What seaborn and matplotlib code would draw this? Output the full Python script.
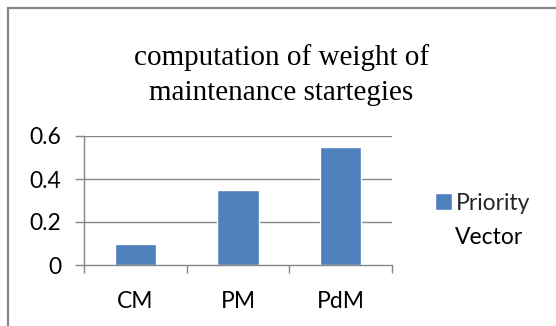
import matplotlib
matplotlib.use("Agg")
import matplotlib.pyplot as plt
import seaborn as sns
import pandas as pd
from matplotlib.patches import Rectangle

categories = ["CM", "PM", "PdM"]
values = [0.1, 0.35, 0.55]
series_name = ["Priority", "Vector"]
title = "computation of weight of\nmaintenance startegies"
yticks = [0, 0.2, 0.4, 0.6]
ytick_labels = ["0", "0.2", "0.4", "0.6"]

sns.set_theme(style="white")
plt.rcParams["font.family"] = ["Lato", "DejaVu Sans"]

df = pd.DataFrame({"cat": categories, "val": values})

W, H = 556, 326
fig = plt.figure(figsize=(W / 100, H / 100), dpi=100)
ax = fig.add_axes([84 / W, 1 - 265 / H, (392 - 84) / W, (265 - 136) / H])

bar_color = "#4F81BD"
sns.barplot(data=df, x="cat", y="val", color=bar_color, width=0.4, ax=ax,
            saturation=1, label=series_name[0])

grid_c = "#868686"
ax.set_ylim(0, 0.6)
ax.set_xlim(-0.5, 2.5)
ax.set_yticks(yticks)
ax.set_yticklabels(ytick_labels)
ax.set_xlabel("")
ax.set_ylabel("")
for y in yticks[1:]:
    ax.axhline(y, color=grid_c, lw=1.0, zorder=0)
for s in ["top", "right"]:
    ax.spines[s].set_visible(False)
for s in ["left", "bottom"]:
    ax.spines[s].set_color(grid_c)
    ax.spines[s].set_linewidth(1.0)

ax.tick_params(axis="y", which="major", direction="out", length=6.5, width=1.0,
               color=grid_c, pad=10, labelsize=16.5, labelcolor="#000000", left=True)
ax.set_xticks([-0.5, 0.5, 1.5, 2.5], minor=True)
ax.tick_params(axis="x", which="minor", direction="out", length=6, width=1.0,
               color=grid_c, bottom=True)
ax.tick_params(axis="x", which="major", length=0, pad=19, labelsize=16.5,
               labelcolor="#000000")

leg = ax.legend(loc="center left", bbox_to_anchor=(435 / W, 1 - 203 / H),
                bbox_transform=fig.transFigure, frameon=False, fontsize=16.5,
                handlelength=0.75, handleheight=0.75, handletextpad=0.15,
                borderpad=0, borderaxespad=0)
fig.text(455 / W, 1 - 237 / H, series_name[1], ha="left", va="center",
         fontsize=16.5, color="#000000")

fig.text(0.506, 1 - 75.5 / H, title, ha="center", va="center",
         family=["Liberation Serif"], fontsize=21, linespacing=1.45,
         color="#000000")

fig.patches.append(Rectangle((8 / W, -0.2), 1.5, 1.2 - 8 / H,
                             transform=fig.transFigure, fill=False,
                             edgecolor="#888888", lw=1.6))

fig.savefig("out.png", dpi=100)
